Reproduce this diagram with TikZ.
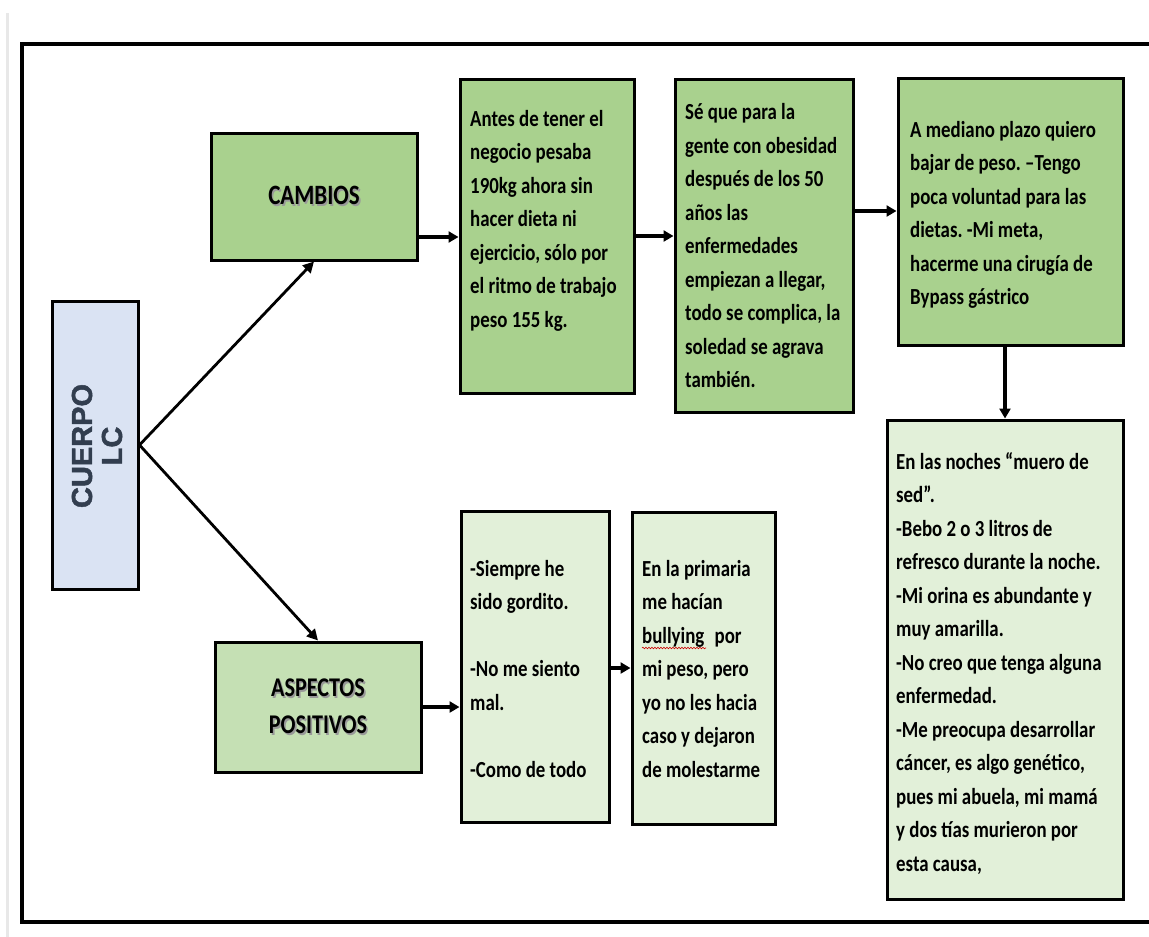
\documentclass[tikz,border=0pt]{standalone}
\usepackage{fontspec}
\usetikzlibrary{arrows.meta,decorations.pathmorphing}
\setmainfont{Carlito}[FakeStretch=0.82]
\newfontfamily\headfont{Liberation Sans Bold}[FakeBold=1.6]
\definecolor{greenA}{HTML}{A9D18E}
\definecolor{greenB}{HTML}{C5E0B4}
\definecolor{greenC}{HTML}{E2F0D9}
\definecolor{blueA}{HTML}{DAE3F3}
\definecolor{slate}{HTML}{323E4F}
\frenchspacing
% title text with a soft grey drop shadow
\newcommand\shadowed[1]{\leavevmode\rlap{\kern1.6pt\raisebox{-1.6pt}{\textcolor{black!40}{#1}}}#1}
% body text block: first baseline sits on the node's base anchor
\newcommand\bodytext[1]{\parbox[t]{320pt}{\raggedright\fontsize{23}{33.5}\selectfont\bfseries #1}}
\begin{document}
\begin{tikzpicture}[x=1pt,y=-1pt,
  box/.style={draw=black,line width=3pt,rectangle,inner sep=0pt},
  txt/.style={anchor=base west,inner sep=0pt},
  arr/.style={line width=3.2pt,-{Triangle[length=10pt,width=11pt]}},
  darr/.style={line width=2.8pt,-{Triangle[length=11pt,width=11pt]}}]
\useasboundingbox (0,0) rectangle (1149,937);
\fill[white] (0,0) rectangle (1149,937);
% page edge and outer frame
\draw[line width=3pt,black!9] (7,13) -- (7,937);
\draw[line width=3.6pt] (1155,44) -- (22,44) -- (22,922) -- (1155,922);

% boxes
\node[box,fill=blueA,minimum width=86pt,minimum height=288pt] (cuerpo) at (95,445) {};
\node[box,fill=greenA,minimum width=206pt,minimum height=127pt] (cambios) at (314,196.5) {};
\node[box,fill=greenA,minimum width=174pt,minimum height=314pt] (b1) at (547,236) {};
\node[box,fill=greenA,minimum width=178pt,minimum height=333pt] (b2) at (764,245.5) {};
\node[box,fill=greenA,minimum width=225pt,minimum height=267pt] (b3) at (1010.5,211.5) {};
\node[box,fill=greenC,minimum width=236pt,minimum height=479pt] (b4) at (1005,659.5) {};
\node[box,fill=greenB,minimum width=206pt,minimum height=130pt] (asp) at (318,707) {};
\node[box,fill=greenC,minimum width=148pt,minimum height=311pt] (b5) at (535,666.5) {};
\node[box,fill=greenC,minimum width=143pt,minimum height=312pt] (b6) at (703.5,668) {};

% labels
\node[rotate=90,inner sep=0pt,text=slate,align=center,font=\headfont\fontsize{29}{30}\selectfont] (cuerpoT) at (97,446) {CUERPO\\LC};
\node[inner sep=0pt,font=\bfseries\fontsize{28}{37}\selectfont] (cambiosT) at (cambios.center) {\shadowed{CAMBIOS}};
\node[inner sep=0pt,align=center,font=\bfseries\fontsize{27}{37}\selectfont] (aspT) at (asp.center) {\shadowed{ASPECTOS}\\\shadowed{POSITIVOS}};

\node[txt] (t1) at (470,126) {\bodytext{Antes de tener el\\negocio pesaba\\190kg ahora sin\\hacer dieta ni\\ejercicio, sólo por\\el ritmo de trabajo\\peso 155 kg.}};
\node[txt] (t2) at (685,119.5) {\bodytext{Sé que para la\\gente con obesidad\\después de los 50\\años las\\enfermedades\\empiezan a llegar,\\todo se complica, la\\soledad se agrava\\también.}};
\node[txt] (t3) at (910,137) {\bodytext{A mediano plazo quiero\\bajar de peso. –Tengo\\poca voluntad para las\\dietas. -Mi meta,\\hacerme una cirugía de\\Bypass gástrico}};
\node[txt] (t4) at (896,469) {\bodytext{En las noches “muero de\\sed”.\\-Bebo 2 o 3 litros de\\refresco durante la noche.\\-Mi orina es abundante y\\muy amarilla.\\-No creo que tenga alguna\\enfermedad.\\-Me preocupa desarrollar\\cáncer, es algo genético,\\pues mi abuela, mi mamá\\y dos tías murieron por\\esta causa,}};
\node[txt] (t5) at (470,576) {\bodytext{-Siempre he\\sido gordito.\\[33.5pt]-No me siento\\mal.\\[33.5pt]-Como de todo}};
\node[txt] (t6) at (642,576) {\bodytext{En la primaria\\me hacían\\bullying\hspace{0.45em}por\\mi peso, pero\\yo no les hacia\\caso y dejaron\\de molestarme}};
% spell-check squiggle under "bullying"
\draw[red!80!black,line width=0.6pt,decorate,decoration={snake,amplitude=0.8pt,segment length=3pt}] (642,648) -- (706,648);

% connectors
\draw[darr] (cuerpo.east) -- (cambios.south);
\draw[darr] (cuerpo.east) -- (asp.north);
\draw[arr] (cambios.east |- 0,237) -- (b1.west |- 0,237);
\draw[arr] (b1.east |- 0,236) -- (b2.west |- 0,236);
\draw[arr] (b2.east |- 0,211) -- (b3.west |- 0,211);
\draw[arr] (1005,0 |- b3.south) -- (1005,0 |- b4.north);
\draw[arr] (asp.east |- 0,707) -- (b5.west |- 0,707);
\draw[arr] (b5.east |- 0,668) -- (b6.west |- 0,668);
\end{tikzpicture}
\end{document}
